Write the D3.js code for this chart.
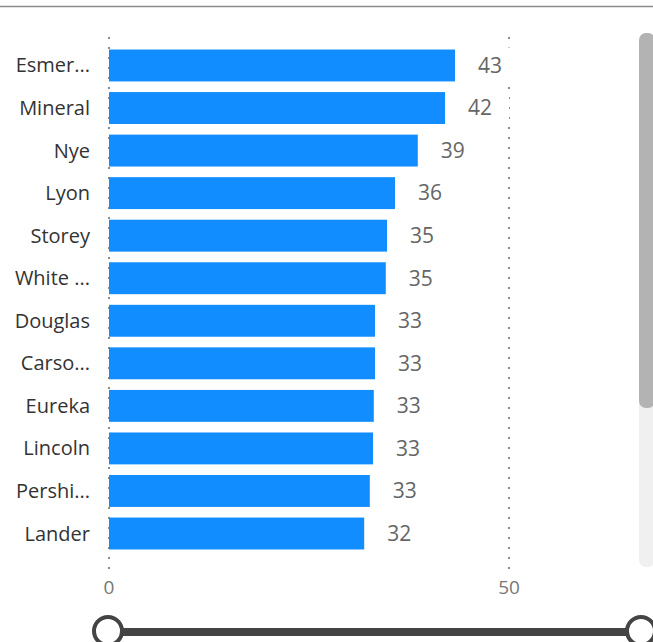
<!DOCTYPE html>
<html>
<head>
<meta charset="utf-8">
<script src="https://cdn.jsdelivr.net/npm/d3@7"></script>
<style>
  html, body { margin: 0; padding: 0; background: #fff; }
  svg { display: block; }
</style>
</head>
<body>
<div id="chart"></div>
<script>
// Category labels as shown (truncated in the visual)
const categories = ['Esmer...', 'Mineral', 'Nye', 'Lyon', 'Storey', 'White ...',
  'Douglas', 'Carso...', 'Eureka', 'Lincoln', 'Pershi...', 'Lander'];
// Values; labels show them rounded
const values = [43.25, 42.0, 38.6, 35.75, 34.75, 34.6, 33.25, 33.25, 33.1, 33.0, 32.6, 31.9];
const xTicks = [0, 50];

const width = 653, height = 642;
const font = '"Segoe UI", "Open Sans", sans-serif';

const svg = d3.select('#chart').append('svg')
  .attr('width', width)
  .attr('height', height);

// top frame line
svg.append('line')
  .attr('x1', 0).attr('x2', width)
  .attr('y1', 6.5).attr('y2', 6.5)
  .attr('stroke', '#8a8a8a')
  .attr('stroke-width', 1.5);

const x = d3.scaleLinear().domain([0, 50]).range([109, 509]);
const y = d3.scaleBand()
  .domain(categories)
  .range([44.2, 554.8])
  .paddingInner(0.25)
  .paddingOuter(0.125);

// dotted gridlines
svg.append('g')
  .selectAll('line')
  .data(xTicks)
  .join('line')
  .attr('x1', d => x(d)).attr('x2', d => x(d))
  .attr('y1', 37).attr('y2', 570)
  .attr('stroke', '#666')
  .attr('stroke-width', 1.5)
  .attr('stroke-dasharray', '2,8');

// tick labels
svg.append('g')
  .selectAll('text')
  .data(xTicks)
  .join('text')
  .attr('x', d => x(d))
  .attr('y', 594)
  .attr('text-anchor', 'middle')
  .attr('font-family', font)
  .attr('font-size', '19px')
  .attr('fill', '#777')
  .text(d => d);

// bars
svg.append('g')
  .selectAll('rect')
  .data(values)
  .join('rect')
  .attr('x', x(0))
  .attr('y', (d, i) => y(categories[i]))
  .attr('width', d => x(d) - x(0))
  .attr('height', y.bandwidth())
  .attr('fill', '#118DFF');

// category labels
svg.append('g')
  .selectAll('text')
  .data(categories)
  .join('text')
  .attr('x', 90)
  .attr('y', d => y(d) + y.bandwidth() / 2)
  .attr('dy', '0.35em')
  .attr('text-anchor', 'end')
  .attr('font-family', font)
  .attr('font-size', '20px')
  .attr('fill', '#333')
  .text(d => d);

// value labels with white background (covers gridline)
const fmt = d3.format('.0f');
const vl = svg.append('g')
  .selectAll('g')
  .data(values)
  .join('g')
  .attr('transform', (d, i) => `translate(${x(d) + 23},${y(categories[i]) + y.bandwidth() / 2})`);

vl.append('rect')
  .attr('x', -2)
  .attr('y', -18)
  .attr('height', 36)
  .attr('fill', '#fff');

vl.append('text')
  .attr('dy', '0.35em')
  .attr('font-family', font)
  .attr('font-size', '21px')
  .attr('fill', '#666')
  .text(d => fmt(d));

vl.each(function() {
  const g = d3.select(this);
  const w = g.select('text').node().getComputedTextLength();
  g.select('rect').attr('width', w + 19);
});

// scrollbar
svg.append('rect')
  .attr('x', 639).attr('y', 33)
  .attr('width', 16).attr('height', 534)
  .attr('rx', 7)
  .attr('fill', '#f0f0f0');
svg.append('rect')
  .attr('x', 639).attr('y', 33)
  .attr('width', 16).attr('height', 375)
  .attr('rx', 7)
  .attr('fill', '#b3b3b3');

// range slider at the bottom
svg.append('line')
  .attr('x1', 108).attr('x2', 641)
  .attr('y1', 632).attr('y2', 632)
  .attr('stroke', '#444')
  .attr('stroke-width', 8);
svg.append('g')
  .selectAll('circle')
  .data([108, 641])
  .join('circle')
  .attr('cx', d => d)
  .attr('cy', 631)
  .attr('r', 14)
  .attr('fill', '#fff')
  .attr('stroke', '#444')
  .attr('stroke-width', 4);
</script>
</body>
</html>
